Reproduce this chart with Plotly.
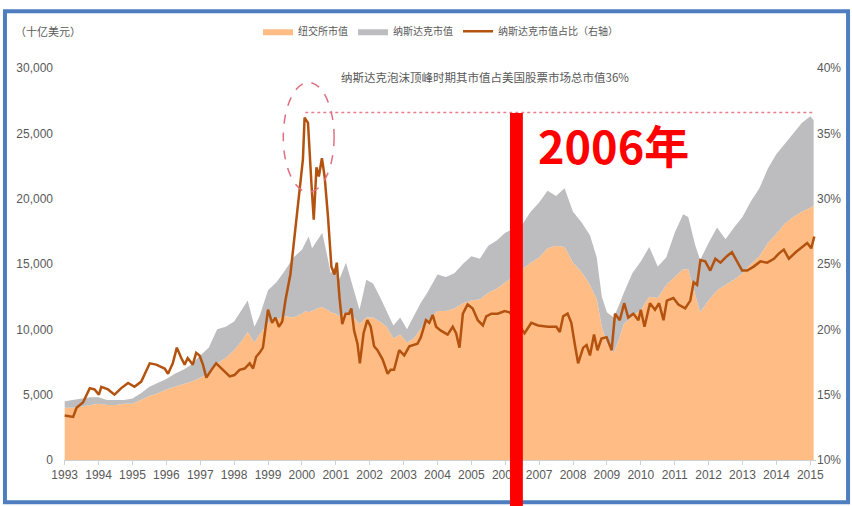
import plotly.graph_objects as go

# ---------------- data ----------------
area_dates = [1993.0, 1993.25, 1993.5, 1993.75, 1994.0, 1994.25, 1994.5, 1994.75,
              1995.0, 1995.25, 1995.5, 1995.75, 1996.0, 1996.25, 1996.5, 1996.75,
              1997.0, 1997.25, 1997.5, 1997.75, 1998.0, 1998.25, 1998.4, 1998.6,
              1998.75, 1999.0, 1999.25, 1999.5, 1999.75, 2000.0, 2000.1, 2000.2,
              2000.3, 2000.45, 2000.6, 2000.75, 2000.85, 2001.0, 2001.1, 2001.3,
              2001.5, 2001.7, 2001.9, 2002.1, 2002.3, 2002.5, 2002.7, 2002.9,
              2003.1, 2003.3, 2003.5, 2003.7, 2004.0, 2004.25, 2004.5, 2004.75,
              2005.0, 2005.25, 2005.5, 2005.75, 2006.0, 2006.25, 2006.5, 2006.75,
              2007.0, 2007.25, 2007.5, 2007.75, 2008.0, 2008.25, 2008.5, 2008.7,
              2008.85, 2009.0, 2009.2, 2009.35, 2009.5, 2009.75, 2010.0, 2010.25,
              2010.5, 2010.75, 2011.0, 2011.25, 2011.4, 2011.6, 2011.75, 2012.0,
              2012.25, 2012.5, 2012.75, 2013.0, 2013.25, 2013.5, 2013.75, 2014.0,
              2014.25, 2014.5, 2014.75, 2015.0, 2015.1]

# NYSE market value (billion USD)
nyse_cap = [4000, 4000, 4100, 4200, 4300, 4200, 4200, 4300,
            4300, 4600, 4900, 5100, 5400, 5600, 5800, 6000,
            6300, 6600, 7400, 7800, 8400, 9200, 9800, 9000,
            9600, 10500, 10800, 11000, 10900, 11200, 11400, 11300,
            11400, 11600, 11700, 11500, 11300, 11200, 11000, 11300,
            11000, 10400, 10900, 10900, 10600, 10200, 9300, 9600,
            9000, 9300, 10000, 10600, 11400, 11400, 11600, 12000,
            12200, 12300, 12800, 13100, 13600, 14000, 14600, 15100,
            15500, 16200, 16400, 16300, 15100, 14400, 13400, 12300,
            10200, 8900, 8200, 9200, 10400, 11000, 11500, 12500,
            12400, 13400, 14000, 14600, 14600, 12800, 11300, 12200,
            13000, 13400, 13800, 14300, 15000, 15600, 16600, 17300,
            18100, 18600, 19000, 19300, 19500]

# NASDAQ market value (billion USD), stacked on top of NYSE
nasdaq_cap = [500, 600, 600, 600, 500, 400, 400, 300,
              400, 500, 700, 800, 800, 1000, 1100, 1300,
              1700, 2000, 2600, 2400, 2200, 2400, 2400, 1200,
              1400, 2500, 2800, 3500, 4600, 4900, 5200, 5800,
              4800, 5200, 5700, 4100, 3000, 3600, 2800, 3800,
              2200, 1100, 2900, 2600, 1900, 1200, 1000, 1300,
              1000, 1700, 2000, 2200, 2800, 2600, 2700, 3000,
              3400, 3100, 3600, 3700, 3800, 3700, 3400, 3900,
              4200, 4400, 3800, 4500, 3900, 3800, 3800, 3200,
              2300, 2400, 2700, 2600, 2400, 3300, 3700, 3800,
              2400, 2100, 3400, 4200, 4000, 3700, 4000, 4400,
              4800, 3500, 4000, 4300, 4800, 5200, 5700, 6100,
              6100, 6400, 6800, 7000, 6500]

share_dates = [1993.0, 1993.25, 1993.35, 1993.54, 1993.74, 1993.88, 1994.01, 1994.08,
               1994.28, 1994.47, 1994.67, 1994.87, 1995.06, 1995.26, 1995.51, 1995.70,
               1995.95, 1996.05, 1996.19, 1996.31, 1996.44, 1996.54, 1996.63, 1996.78,
               1996.88, 1996.98, 1997.08, 1997.18, 1997.33, 1997.47, 1997.67, 1997.87,
               1998.01, 1998.16, 1998.31, 1998.46, 1998.56, 1998.65, 1998.75, 1998.85,
               1999.0, 1999.12, 1999.22, 1999.32, 1999.42, 1999.52, 1999.66, 1999.79,
               1999.94, 2000.03, 2000.08, 2000.18, 2000.28, 2000.35, 2000.43, 2000.50,
               2000.59, 2000.67, 2000.77, 2000.87, 2000.96, 2001.03, 2001.11, 2001.19,
               2001.29, 2001.39, 2001.46, 2001.54, 2001.64, 2001.71, 2001.82, 2001.93,
               2002.03, 2002.13, 2002.23, 2002.38, 2002.53, 2002.62, 2002.72, 2002.87,
               2003.02, 2003.17, 2003.41, 2003.51, 2003.66, 2003.76, 2003.86, 2003.96,
               2004.10, 2004.30, 2004.45, 2004.55, 2004.65, 2004.75, 2004.89, 2005.04,
               2005.19, 2005.34, 2005.44, 2005.59, 2005.78, 2005.98, 2006.13, 2006.35,
               2006.57, 2006.77, 2006.97, 2007.26, 2007.51, 2007.61, 2007.71, 2007.84,
               2007.95, 2008.05, 2008.15, 2008.30, 2008.40, 2008.50, 2008.62, 2008.72,
               2008.84, 2008.99, 2009.14, 2009.24, 2009.38, 2009.51, 2009.63, 2009.78,
               2009.93, 2010.0, 2010.11, 2010.27, 2010.42, 2010.54, 2010.67, 2010.77,
               2010.96, 2011.11, 2011.31, 2011.46, 2011.56, 2011.66, 2011.76, 2011.90,
               2012.05, 2012.20, 2012.35, 2012.54, 2012.69, 2012.84, 2012.99, 2013.14,
               2013.33, 2013.53, 2013.73, 2013.93, 2014.07, 2014.22, 2014.37, 2014.57,
               2014.76, 2014.91, 2015.03, 2015.12]

# NASDAQ share of total US market value (%, right axis)
nasdaq_share = [13.4, 13.3, 14.0, 14.4, 15.5, 15.4, 15.0, 15.6,
                15.4, 15.0, 15.5, 15.9, 15.6, 16.0, 17.4, 17.3,
                17.0, 16.6, 17.4, 18.6, 17.8, 17.3, 17.8, 17.3,
                18.2, 18.0, 17.3, 16.3, 16.9, 17.4, 16.9, 16.4,
                16.5, 16.9, 17.0, 17.4, 17.0, 17.9, 18.2, 18.6,
                21.5, 20.5, 20.9, 20.2, 20.6, 22.3, 24.2, 27.3,
                31.2, 33.0, 36.2, 35.8, 31.2, 28.4, 32.4, 31.7,
                33.1, 31.7, 28.6, 24.8, 24.2, 25.1, 22.4, 20.4,
                21.2, 21.2, 21.6, 19.9, 18.9, 17.4, 19.7, 20.7,
                20.2, 18.7, 18.4, 17.7, 16.6, 16.9, 16.9, 18.4,
                18.0, 18.7, 18.9, 19.4, 20.7, 20.5, 21.1, 20.2,
                19.9, 19.6, 20.2, 19.7, 18.6, 21.2, 21.9, 21.6,
                20.7, 20.3, 21.0, 21.2, 21.2, 21.4, 21.3, 20.5,
                19.7, 20.5, 20.3, 20.2, 20.2, 19.8, 21.0, 21.2,
                20.5, 18.9, 17.4, 18.6, 18.8, 18.0, 19.6, 18.4,
                19.3, 19.4, 18.4, 21.2, 20.7, 22.0, 20.9, 21.2,
                20.7, 21.5, 20.2, 22.0, 21.5, 22.0, 20.7, 22.2,
                22.4, 21.9, 21.6, 22.2, 23.6, 23.4, 25.3, 25.2,
                24.5, 25.4, 25.1, 25.6, 25.9, 25.2, 24.5, 24.5,
                24.8, 25.2, 25.1, 25.4, 25.8, 26.1, 25.4, 25.9,
                26.3, 26.6, 26.2, 27.1]

year_ticks = list(range(1993, 2016))
year_labels = [str(y) for y in year_ticks]
left_ticks = [0, 5000, 10000, 15000, 20000, 25000, 30000]
right_ticks = [10, 15, 20, 25, 30, 35, 40]
right_labels = ["10%", "15%", "20%", "25%", "30%", "35%", "40%"]

series_names = ["纽交所市值", "纳斯达克市值", "纳斯达克市值占比（右轴）"]
unit_label = "（十亿美元）"
peak_note = "纳斯达克泡沫顶峰时期其市值占美国股票市场总市值36%"
marker_label = "2006年"
peak_share = 36.6

# ---------------- figure ----------------
CJK = "Noto Sans CJK SC"
NARROW = "Liberation Sans Narrow, Arial Narrow, Liberation Sans, sans-serif"
TXT = "#595959"

fig = go.Figure()
fig.add_trace(go.Scatter(
    x=area_dates, y=nyse_cap, name=series_names[0], mode="lines",
    stackgroup="cap", line=dict(width=0, color="#FFBD85"),
    fillcolor="#FFBD85", legendrank=1))
fig.add_trace(go.Scatter(
    x=area_dates, y=nasdaq_cap, name=series_names[1], mode="lines",
    stackgroup="cap", line=dict(width=0, color="#BDBDBF"),
    fillcolor="#BDBDBF", legendrank=2))
fig.add_trace(go.Scatter(
    x=share_dates, y=nasdaq_share, name=series_names[2], mode="lines",
    yaxis="y2", line=dict(width=2.5, color="#B4530F"), legendrank=3))

fig.update_layout(
    width=852, height=506,
    margin=dict(l=64, r=36, t=68, b=46),
    paper_bgcolor="white", plot_bgcolor="white",
    showlegend=True,
    legend=dict(orientation="h", x=0.258, y=1.094, xanchor="left", yanchor="middle",
                traceorder="normal",
                font=dict(family=CJK, size=10, color=TXT),
                itemwidth=30, bgcolor="rgba(0,0,0,0)"),
    xaxis=dict(range=[1992.98, 2015.17], tickmode="array", tickvals=year_ticks,
               ticktext=year_labels, showgrid=False, zeroline=False,
               showline=True, linecolor="#D0D0D0", ticks="outside", ticklen=4,
               tickcolor="#D0D0D0",
               tickfont=dict(family=NARROW, size=12, color=TXT)),
    yaxis=dict(range=[0, 30000], tickmode="array", tickvals=left_ticks,
               tickformat=",", showgrid=False, zeroline=False, showline=False,
               ticks="", ticklabelstandoff=10,
               tickfont=dict(family=NARROW, size=12, color=TXT)),
    yaxis2=dict(range=[10, 40], overlaying="y", side="right", tickmode="array",
                tickvals=right_ticks, ticktext=right_labels, showgrid=False,
                zeroline=False, showline=False, ticks="",
                tickfont=dict(family=NARROW, size=12, color=TXT)),
)

# frame around the whole picture
fig.add_shape(type="rect", xref="paper", yref="paper",
              x0=-0.0785, x1=1.0426, y0=-0.108, y1=1.145,
              line=dict(color="#4F7EC0", width=4), fillcolor="rgba(0,0,0,0)",
              layer="above")

# dotted 36% level line
fig.add_shape(type="line", xref="x", yref="y2",
              x0=2000.1, x1=2015.1, y0=peak_share, y1=peak_share,
              line=dict(color="#E8808C", width=1.5, dash="dot"))
# dashed ellipse around the bubble peak
fig.add_shape(type="circle", xref="x", yref="y2",
              x0=1999.45, x1=2000.95, y0=30.5, y1=38.9,
              line=dict(color="#E07080", width=1.5, dash="dash"))
# red vertical marker at 2006
fig.add_shape(type="rect", xref="x", yref="paper",
              x0=2006.14, x1=2006.52, y0=-0.12, y1=0.885,
              fillcolor="#FF0000", line=dict(width=0), layer="above")

fig.add_annotation(x=-0.068, y=1.094, xref="paper", yref="paper",
                   xanchor="left", yanchor="middle", showarrow=False,
                   text=unit_label, font=dict(family=CJK, size=11, color=TXT))
fig.add_annotation(x=0.56, y=0.977, xref="paper", yref="paper",
                   xanchor="center", yanchor="middle", showarrow=False,
                   text=peak_note, font=dict(family=CJK, size=11.5, color=TXT))
fig.add_annotation(x=2009.2, y=0.804, xref="x", yref="paper",
                   xanchor="center", yanchor="middle", showarrow=False,
                   text="<b>" + marker_label + "</b>",
                   font=dict(family=CJK, size=45, color="#FF0000"))

fig.write_html("out.html", config={"displayModeBar": False},
               post_script="document.body.style.margin='0';")
